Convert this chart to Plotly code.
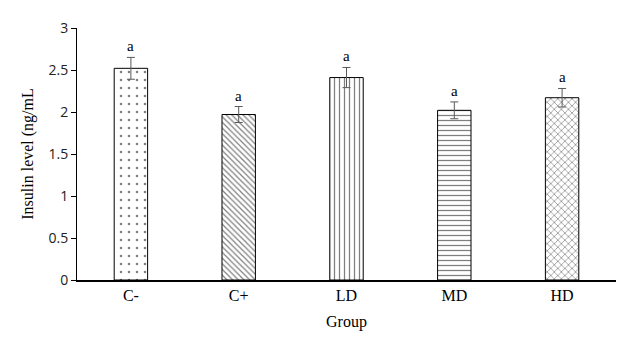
import plotly.graph_objects as go

groups = ["C-", "C+", "LD", "MD", "HD"]
insulin = [2.52, 1.97, 2.41, 2.02, 2.17]
sem = [0.13, 0.095, 0.12, 0.10, 0.11]
letters = ["a", "a", "a", "a", "a"]
patterns = [".", "\\", "|", "-", "x"]
pattern_sizes = [8, 4, 5, 5, 5]
pattern_solidity = [0.08, 0.3, 0.25, 0.25, 0.25]

fig = go.Figure()
fig.add_trace(go.Bar(
    x=groups, y=insulin, width=0.31,
    marker=dict(color="white", line=dict(color="black", width=1),
                pattern=dict(shape=patterns, fgcolor="black", bgcolor="white",
                             size=pattern_sizes, solidity=pattern_solidity)),
    error_y=dict(type="data", array=sem, visible=True, color="#595959",
                 thickness=1, width=4),
    showlegend=False,
))
for g, v, e, t in zip(groups, insulin, sem, letters):
    fig.add_annotation(x=g, y=v + e, text=t, showarrow=False, yshift=11,
                       font=dict(family="Liberation Serif", size=15, color="black"))

fig.update_layout(
    width=638, height=345,
    margin=dict(l=77, r=22, t=28, b=65),
    plot_bgcolor="white", paper_bgcolor="white",
    bargap=0.69,
    xaxis=dict(showline=True, linecolor="black", linewidth=2, ticks="",
               tickfont=dict(family="Liberation Serif", size=16, color="black"),
               title=dict(text="Group", font=dict(family="Liberation Serif", size=16, color="black"), standoff=13),
               showgrid=False),
    yaxis=dict(range=[0, 3], dtick=0.5, showline=True, linecolor="black", linewidth=1,
               ticks="outside", ticklen=5, tickcolor="black", showgrid=False, zeroline=False,
               tickfont=dict(family="Open Sans", size=14, color="#222"),
               title=dict(text="Insulin level (ng/mL", font=dict(family="Liberation Serif", size=16, color="black"), standoff=10)),
)
fig.write_html("out.html")
